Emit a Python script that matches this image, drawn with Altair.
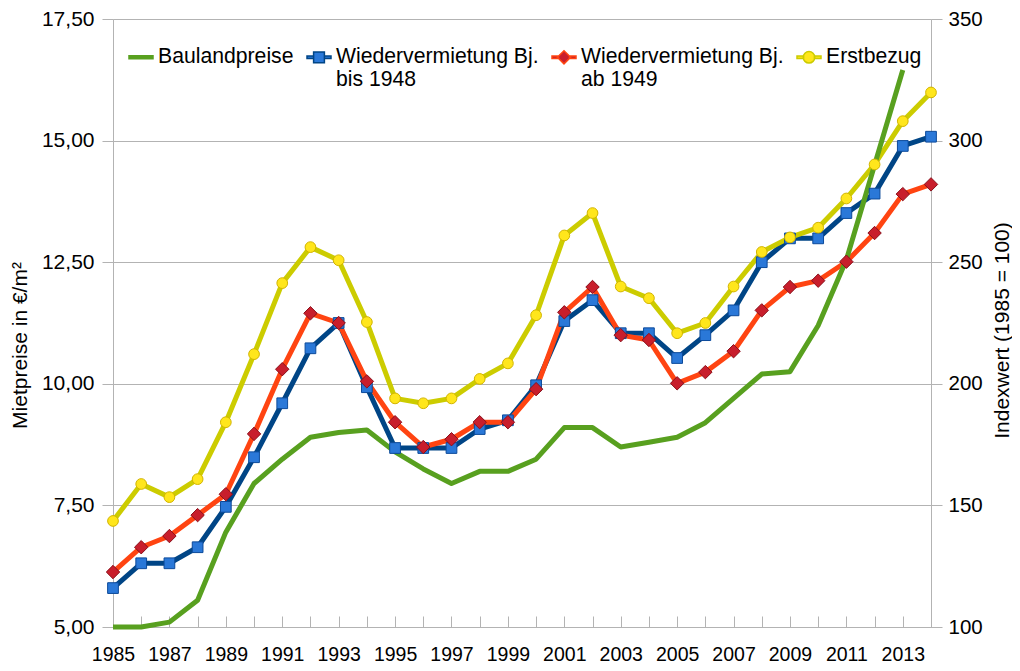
import altair as alt
import pandas as pd

years = list(range(1985, 2015))
label_years = list(range(1985, 2014, 2))
y_ticks_rent = [5.0, 7.5, 10.0, 12.5, 15.0, 17.5]
y_ticks_index = [100, 150, 200, 250, 300, 350]

series_names = [
    "Baulandpreise",
    "Wiedervermietung Bj. bis 1948",
    "Wiedervermietung Bj. ab 1949",
    "Erstbezug",
]

# Index (1985 = 100), right axis
baulandpreise = [100, 100, 102, 111, 139, 159, 169, 178, 180, 181, 172, 165, 159, 164, 164,
                 169, 182, 182, 174, 176, 178, 184, 194, 204, 205, 224, 251, 290, 329, None]
# Rents in EUR/m2, left axis
bis_1948 = [5.80, 6.31, 6.31, 6.64, 7.47, 8.49, 9.60, 10.73, 11.25, 9.93, 8.68, 8.68, 8.68, 9.07, 9.25,
            9.97, 11.29, 11.72, 11.04, 11.04, 10.53, 11.00, 11.51, 12.50, 12.99, 12.99, 13.51, 13.91, 14.89, 15.08]
ab_1949 = [6.13, 6.64, 6.87, 7.30, 7.73, 8.97, 10.30, 11.45, 11.25, 10.05, 9.21, 8.70, 8.86, 9.21, 9.21,
           9.89, 11.47, 11.99, 11.00, 10.90, 10.01, 10.24, 10.67, 11.51, 11.99, 12.12, 12.51, 13.10, 13.90, 14.10]
erstbezug = [7.18, 7.94, 7.67, 8.04, 9.21, 10.61, 12.07, 12.81, 12.54, 11.27, 9.70, 9.60, 9.70, 10.10, 10.42,
             11.41, 13.05, 13.51, 12.00, 11.76, 11.04, 11.25, 12.00, 12.71, 13.01, 13.21, 13.81, 14.51, 15.40, 15.99]

rows = []
for name, vals in zip(series_names, [baulandpreise, bis_1948, ab_1949, erstbezug]):
    for yr, v in zip(years, vals):
        if v is not None:
            rows.append({"year": yr, "series": name, "value": v})
df = pd.DataFrame(rows)

line_colors = ["#58A01F", "#004586", "#FF4411", "#CCCC00"]
marker_fills = ["#58A01F", "#2A78D8", "#C81E2C", "#FFE61C"]
legend_paths = [
    "M-1,-0.12H1V0.12H-1Z",
    "M-1,-0.1H-0.45V0.1H-1Z M0.45,-0.1H1V0.1H0.45Z M-0.45,-0.45H0.45V0.45H-0.45Z",
    "M-1,-0.1H-0.45V0.1H-1Z M0.45,-0.1H1V0.1H0.45Z M0,-0.55L0.55,0L0,0.55L-0.55,0Z",
    "M-1,-0.1H-0.45V0.1H-1Z M0.45,-0.1H1V0.1H0.45Z M0.48,0A0.48,0.48 0 1,1 -0.48,0A0.48,0.48 0 1,1 0.48,0Z",
]

FONT = "Liberation Sans"
GRID = "#b3b3b3"

stroke_scale = alt.Scale(domain=series_names, range=line_colors)
fill_scale = alt.Scale(domain=series_names, range=marker_fills)
shape_scale = alt.Scale(domain=series_names, range=legend_paths)

legend_spec = alt.Legend(
    orient="none", legendX=15, legendY=25, direction="horizontal", title=None,
    labelFont=FONT, labelFontSize=21.2, labelColor="#000000", labelLimit=400,
    symbolSize=576, symbolStrokeWidth=1.5, columnPadding=10, labelOffset=4, padding=0,
    labelExpr="split(replace(datum.label, 'Bj. ', 'Bj.|') + (indexof(datum.label, 'Bj.') < 0 ? '| ' : ''), '|')",
)

xscale = alt.Scale(domain=[1985, 2014], nice=False, zero=False)
yscale_rent = alt.Scale(domain=[5, 17.5], nice=False, zero=False)
yscale_index = alt.Scale(domain=[100, 350], nice=False, zero=False)

x_main = alt.X("year:Q", scale=xscale, axis=alt.Axis(
    orient="bottom", values=label_years, format="d", ticks=False, tickSize=0, labelPadding=18,
    domain=True, domainColor=GRID, grid=False, title=None, labelFlush=False, labelOverlap=False,
    labelFont=FONT, labelFontSize=19.5, labelColor="#000000"))
x_ticks = alt.X("year:Q", scale=xscale, axis=alt.Axis(
    orient="bottom", offset=-11, values=years, labels=False, domain=False, ticks=True, tickSize=11,
    tickColor=GRID, grid=False, title=None))
x_none = alt.X("year:Q", scale=xscale, axis=None)

y_rent = alt.Y("value:Q", scale=yscale_rent, axis=alt.Axis(
    orient="left", values=y_ticks_rent, labelExpr="replace(format(datum.value, '.2f'), '.', ',')",
    grid=True, gridColor=GRID, tickSize=11, tickColor=GRID, domainColor=GRID, labelPadding=8,
    labelFont=FONT, labelFontSize=21, labelColor="#000000",
    title="Mietpreise in €/m²", titleFont=FONT, titleFontSize=21, titleFontWeight="normal",
    titleColor="#000000", titleAngle=270, titleX=-93, titleY=326, titleBaseline="middle",
    titleAlign="center"))
y_rent_none = alt.Y("value:Q", scale=yscale_rent, axis=None)
y_index = alt.Y("value:Q", scale=yscale_index, axis=alt.Axis(
    orient="right", values=y_ticks_index, format="d", grid=False, tickSize=11, tickColor=GRID,
    domainColor=GRID, labelPadding=6, labelFont=FONT, labelFontSize=20.5, labelColor="#000000",
    title="Indexwert (1985 = 100)", titleFont=FONT, titleFontSize=21, titleFontWeight="normal",
    titleColor="#000000", titleAngle=270, titleX=71, titleY=311, titleBaseline="middle",
    titleAlign="center"))

base = alt.Chart(df)

rent_lines = base.transform_filter(alt.datum.series != "Baulandpreise").mark_line(
    strokeWidth=5, strokeJoin="round").encode(
    x=x_main, y=y_rent,
    stroke=alt.Stroke("series:N", scale=stroke_scale, legend=legend_spec))

bau_line = base.transform_filter(alt.datum.series == "Baulandpreise").mark_line(
    strokeWidth=5, strokeJoin="round").encode(
    x=x_ticks, y=y_index,
    stroke=alt.Stroke("series:N", scale=stroke_scale, legend=legend_spec))

def markers(name, shape, size, fill, stroke):
    return base.transform_filter(alt.datum.series == name).mark_point(
        shape=shape, size=size, filled=True, fill=fill, stroke=stroke, strokeWidth=1, opacity=1
    ).encode(x=x_none, y=y_rent_none)

marker_layer = alt.layer(
    markers("Wiedervermietung Bj. bis 1948", "square", 115, "#2A78D8", "#0C4A9A"),
    markers("Wiedervermietung Bj. ab 1949", "diamond", 180, "#C81E2C", "#8A0F1A"),
    markers("Erstbezug", "circle", 115, "#FFE61C", "#D2B400"),
)

legend_layer = base.transform_filter("false").mark_point(filled=True, opacity=1).encode(
    x=x_none, y=y_rent_none,
    fill=alt.Fill("series:N", scale=fill_scale, legend=legend_spec),
    stroke=alt.Stroke("series:N", scale=stroke_scale, legend=legend_spec),
    shape=alt.Shape("series:N", scale=shape_scale, legend=legend_spec),
)

chart = alt.layer(rent_lines, bau_line, marker_layer, legend_layer).resolve_scale(
    x="independent", y="independent"
).properties(
    width=818, height=608,
    autosize=alt.AutoSizeParams(type="none"),
    padding={"left": 105, "top": 11, "right": 81, "bottom": 36},
).configure_view(stroke=None).configure(background="white")

chart.save("out.html", embed_options={"renderer": "svg", "actions": False})
